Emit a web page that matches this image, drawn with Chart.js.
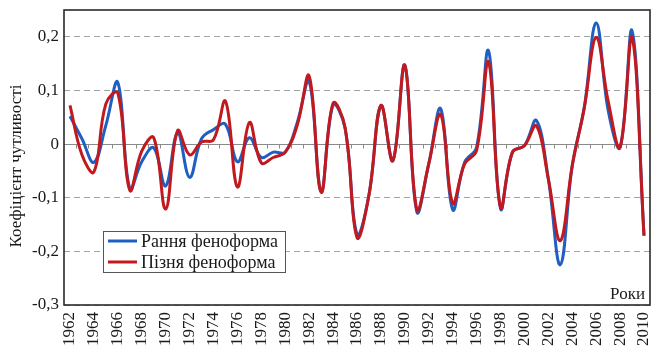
<!DOCTYPE html>
<html><head><meta charset="utf-8">
<script src="https://cdn.jsdelivr.net/npm/chart.js@4.4.1/dist/chart.umd.min.js"></script>
<style>html,body{margin:0;padding:0;background:#fff;}canvas{display:block;}</style>
</head><body>
<canvas id="c" width="653" height="351"></canvas>
<script>
const years = [1962,1963,1964,1965,1966,1967,1968,1969,1970,1971,1972,1973,1974,1975,1976,1977,1978,1979,1980,1981,1982,1983,1984,1985,1986,1987,1988,1989,1990,1991,1992,1993,1994,1995,1996,1997,1998,1999,2000,2001,2002,2003,2004,2005,2006,2007,2008,2009,2010];
const earlyForm = [0.052,0.010,-0.034,0.035,0.115,-0.083,-0.033,-0.007,-0.078,0.021,-0.062,0.010,0.027,0.037,-0.033,0.012,-0.025,-0.015,-0.015,0.040,0.117,-0.088,0.073,0.030,-0.168,-0.095,0.072,-0.031,0.147,-0.126,-0.037,0.066,-0.122,-0.034,-0.006,0.174,-0.120,-0.015,-0.003,0.044,-0.065,-0.225,-0.040,0.068,0.226,0.063,-0.006,0.211,-0.170];
const lateForm = [0.072,-0.020,-0.052,0.075,0.095,-0.086,-0.013,0.012,-0.121,0.025,-0.020,0.004,0.008,0.080,-0.080,0.040,-0.035,-0.025,-0.015,0.035,0.127,-0.090,0.076,0.031,-0.174,-0.095,0.072,-0.031,0.147,-0.122,-0.037,0.055,-0.110,-0.037,-0.012,0.153,-0.118,-0.015,-0.003,0.034,-0.065,-0.180,-0.040,0.067,0.199,0.080,-0.006,0.199,-0.171];
const yTicks = [-0.3,-0.2,-0.1,0,0.1,0.2];
const xTickYears = [1962,1964,1966,1968,1970,1972,1974,1976,1978,1980,1982,1984,1986,1988,1990,1992,1994,1996,1998,2000,2002,2004,2006,2008,2010];
const seriesNames = ['Рання феноформа','Пізня феноформа'];
const yTitle = 'Коефіцієнт чутливості';
const xTitle = 'Роки';
const BLUE = '#1f5fc2', RED = '#c2191f';
const SERIF = '"Liberation Serif", "DejaVu Serif", serif';

const decor = {
  id: 'decor',
  beforeDatasetsDraw(chart) {
    const {ctx, chartArea: a, scales: {x, y}} = chart;
    const y0 = Math.round(y.getPixelForValue(0)) + 0.5;
    ctx.save();
    ctx.strokeStyle = '#8a8a8a';
    ctx.lineWidth = 1;
    ctx.beginPath();
    ctx.moveTo(a.left, y0); ctx.lineTo(a.right, y0);
    for (let i = 1; i < years.length; i++) {
      const px = Math.round(x.getPixelForValue(i - 0.5)) + 0.5;
      ctx.moveTo(px, y0); ctx.lineTo(px, y0 + 4);
    }
    ctx.stroke();
    ctx.restore();
  },
  afterDraw(chart) {
    const {ctx, chartArea: a} = chart;
    ctx.save();
    ctx.strokeStyle = '#2a2a2a';
    ctx.lineWidth = 1.6;
    ctx.strokeRect(a.left, a.top, a.right - a.left, a.bottom - a.top);
    const lx = 103, ly = 231, lw = 182, lh = 41;
    ctx.fillStyle = '#fff';
    ctx.fillRect(lx, ly, lw, lh);
    ctx.strokeStyle = '#555';
    ctx.lineWidth = 1;
    ctx.strokeRect(lx + 0.5, ly + 0.5, lw, lh);
    const rows = [[seriesNames[0], BLUE, 241], [seriesNames[1], RED, 262]];
    ctx.font = '18px ' + SERIF;
    ctx.textBaseline = 'middle';
    ctx.textAlign = 'left';
    rows.forEach(([t, c, yy]) => {
      ctx.strokeStyle = c; ctx.lineWidth = 3;
      ctx.beginPath(); ctx.moveTo(108, yy); ctx.lineTo(137, yy); ctx.stroke();
      ctx.fillStyle = '#1a1a1a';
      ctx.fillText(t, 141, yy + 1);
    });
    ctx.font = '17px ' + SERIF;
    ctx.textAlign = 'right';
    ctx.textBaseline = 'alphabetic';
    ctx.fillText(xTitle, 645, 299);
    ctx.translate(17, 166);
    ctx.rotate(-Math.PI / 2);
    ctx.textAlign = 'center';
    ctx.textBaseline = 'middle';
    ctx.fillText(yTitle, 0, 0);
    ctx.restore();
  }
};

new Chart(document.getElementById('c'), {
  type: 'line',
  data: {
    labels: years,
    datasets: [
      {label: seriesNames[0], data: earlyForm, borderColor: BLUE, borderWidth: 3, pointRadius: 0, tension: 0.4, fill: false, order: 1},
      {label: seriesNames[1], data: lateForm, borderColor: RED, borderWidth: 3, pointRadius: 0, tension: 0.4, fill: false, order: 0}
    ]
  },
  options: {
    responsive: false,
    animation: false,
    devicePixelRatio: 1,
    layout: {padding: {top: 10, right: 3, left: 0, bottom: 0}},
    plugins: {legend: {display: false}, tooltip: {enabled: false}},
    scales: {
      x: {
        type: 'category',
        offset: true,
        grid: {display: false, drawTicks: false},
        border: {display: false},
        ticks: {
          autoSkip: false, minRotation: 90, maxRotation: 90, padding: 7,
          color: '#1a1a1a', font: {family: SERIF, size: 17},
          callback: (v, i) => xTickYears.includes(years[i]) ? String(years[i]) : ''
        },
        afterFit(s) { s.height = 46; s.paddingLeft = 0; s.paddingRight = 0; s.paddingTop = 0; s.paddingBottom = 0; }
      },
      y: {
        min: -0.3, max: 0.25,
        afterBuildTicks(s) { s.ticks = yTicks.map(v => ({value: v})); },
        grid: {drawTicks: false, lineWidth: 1, color: c => (c.tick && c.tick.value === 0) ? 'rgba(0,0,0,0)' : '#a3a3a3'},
        border: {display: false, dash: [6, 4]},
        ticks: {
          padding: 5, color: '#1a1a1a', font: {family: SERIF, size: 17},
          callback: v => v === 0 ? '0' : v.toFixed(1).replace('.', ',')
        },
        afterFit(s) { s.width = 64; s.paddingLeft = 0; s.paddingRight = 0; s.paddingTop = 0; s.paddingBottom = 0; }
      }
    }
  },
  plugins: [decor]
});
</script>
</body></html>
